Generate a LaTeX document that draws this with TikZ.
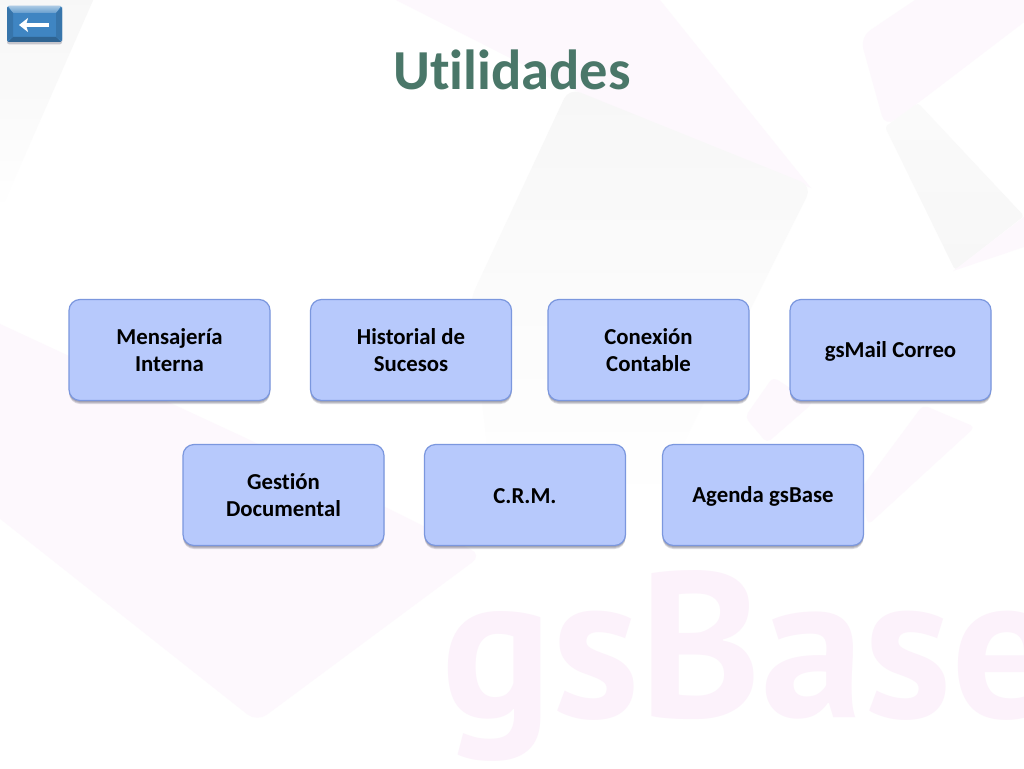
\documentclass[tikz,border=0pt]{standalone}
\usepackage{fontspec}
\setmainfont[Ligatures=CommonOff]{Carlito}
\newfontfamily\wmfont{PT Sans}
\usetikzlibrary{shadows,arrows.meta}
\definecolor{titlegreen}{HTML}{4A7769}
\definecolor{boxfill}{HTML}{B7C9FC}
\definecolor{boxedge}{HTML}{7B97DE}
\definecolor{wmpink}{HTML}{FCF2FB}
\definecolor{wmpinkb}{HTML}{FDF8FD}
\definecolor{wmgrey}{HTML}{F7F7F7}
\definecolor{btn}{HTML}{3F85C2}
\definecolor{shadowc}{HTML}{30304A}
\tikzset{
  softshadow/.style={drop shadow={shadow xshift=0pt,shadow yshift=#1,fill=shadowc,opacity=0.17}},
  card/.style={draw=boxedge,line width=1.2pt,fill=boxfill,rounded corners=11pt,minimum width=201pt,minimum height=101pt,
    align=center,text=black,font=\fontsize{22.8}{27}\selectfont\bfseries,inner sep=2pt,
    softshadow=-3.5pt,softshadow=-2.5pt,softshadow=-1.5pt},
  wm/.style={rounded corners=12pt,draw=none}
}
\newcommand{\lineA}[1]{\raisebox{-0.5pt}[\height][\depth]{#1}}
\newcommand{\lineB}[1]{\raisebox{-1.5pt}[\height][\depth]{#1}}
\begin{document}
\begin{tikzpicture}[x=1pt,y=-1pt]
\useasboundingbox (0,0) rectangle (1024,768);
\fill[white] (0,0) rectangle (1024,768);
% faint watermark
\begin{scope}
\clip (0,0) rectangle (1024,768);
\shade[wm,top color=wmgrey,bottom color=white,middle color=wmgrey!70!white] (-20,-20) -- (102,-20) -- (0,212) -- (-40,212) -- cycle;
\fill[wmpinkb,rounded corners=0pt] (396,0) -- (660,0) -- (811,188) -- (569,88) -- cycle;
\shade[wm,top color=wmgrey,bottom color=white] (569,88) -- (812,186) -- (650,510) -- (490,470) -- (470,300) -- cycle;
\fill[wmpinkb,wm] (860,37) -- (930,-10) -- (1040,-10) -- (1040,10) -- (918,103) -- (885,127) -- cycle;
\shade[wm,rounded corners=3pt,top color=wmgrey!60!white,bottom color=wmgrey] (918,103) -- (1024,216) -- (955,270) -- (885,127) -- cycle;
\fill[wmpinkb] (953,271) -- (1024,217) -- (1024,247) -- cycle;
\fill[wmpinkb,wm] (-30,310) -- (250,440) -- (482,555) -- (257,722) -- (-30,495) -- cycle;
\fill[wmpinkb,rounded corners=5pt] (745,417) -- (773,377) -- (813,403) -- (767,443) -- cycle;
\fill[wmpinkb,rounded corners=5pt] (923,405) -- (975,427) -- (868,525) -- (860,490) -- cycle;
\node[anchor=base west,text=wmpink,inner sep=0pt,font=\wmfont\fontsize{207}{207}\selectfont\bfseries] (wmtext) at (441,717) {gsBase};
\end{scope}
% title
\node[text=titlegreen,font=\fontsize{56.5}{56.5}\selectfont\bfseries,inner sep=0pt] (title) at (512,70) {Utilidades};
% back button
\fill[shadowc,opacity=0.25,rounded corners=2.5pt] (7,8) rectangle (62,44.5);
\fill[btn,rounded corners=2.5pt] (7,6) rectangle (62,42);
\shade[top color=btn!45!white,bottom color=btn!80!white] (8,6) -- (61,6) -- (56,13) -- (13,13) -- cycle;
\fill[btn!75!black] (8,42) -- (61,42) -- (56,37) -- (13,37) -- cycle;
\fill[btn!88!black] (7,7) -- (13,13) -- (13,37) -- (7,41) -- cycle;
\fill[btn!88!black] (62,7) -- (56,13) -- (56,37) -- (62,41) -- cycle;
\coordinate (arrowtail) at (49,25);
\coordinate (arrowhead) at (19,25);
\draw[white,line width=3.6pt,-{Stealth[length=9pt,width=14pt,inset=2pt]}] (arrowtail) -- (arrowhead);
% cards
\node[card] (a) at (169.5,350) {\lineA{Mensajería}\\\lineA{Interna}};
\node[card] (b) at (411,350) {\lineA{Historial de}\\\lineA{Sucesos}};
\node[card] (c) at (648.5,350) {\lineA{Conexión}\\\lineA{Contable}};
\node[card] (d) at (890.5,350) {\lineB{gsMail Correo}};
\node[card] (e) at (283.5,495) {\lineA{Gestión}\\\lineA{Documental}};
\node[card] (f) at (525,495) {\lineB{C.R.M.}};
\node[card] (g) at (763,495) {\lineB{Agenda gsBase}};
\end{tikzpicture}
\end{document}
